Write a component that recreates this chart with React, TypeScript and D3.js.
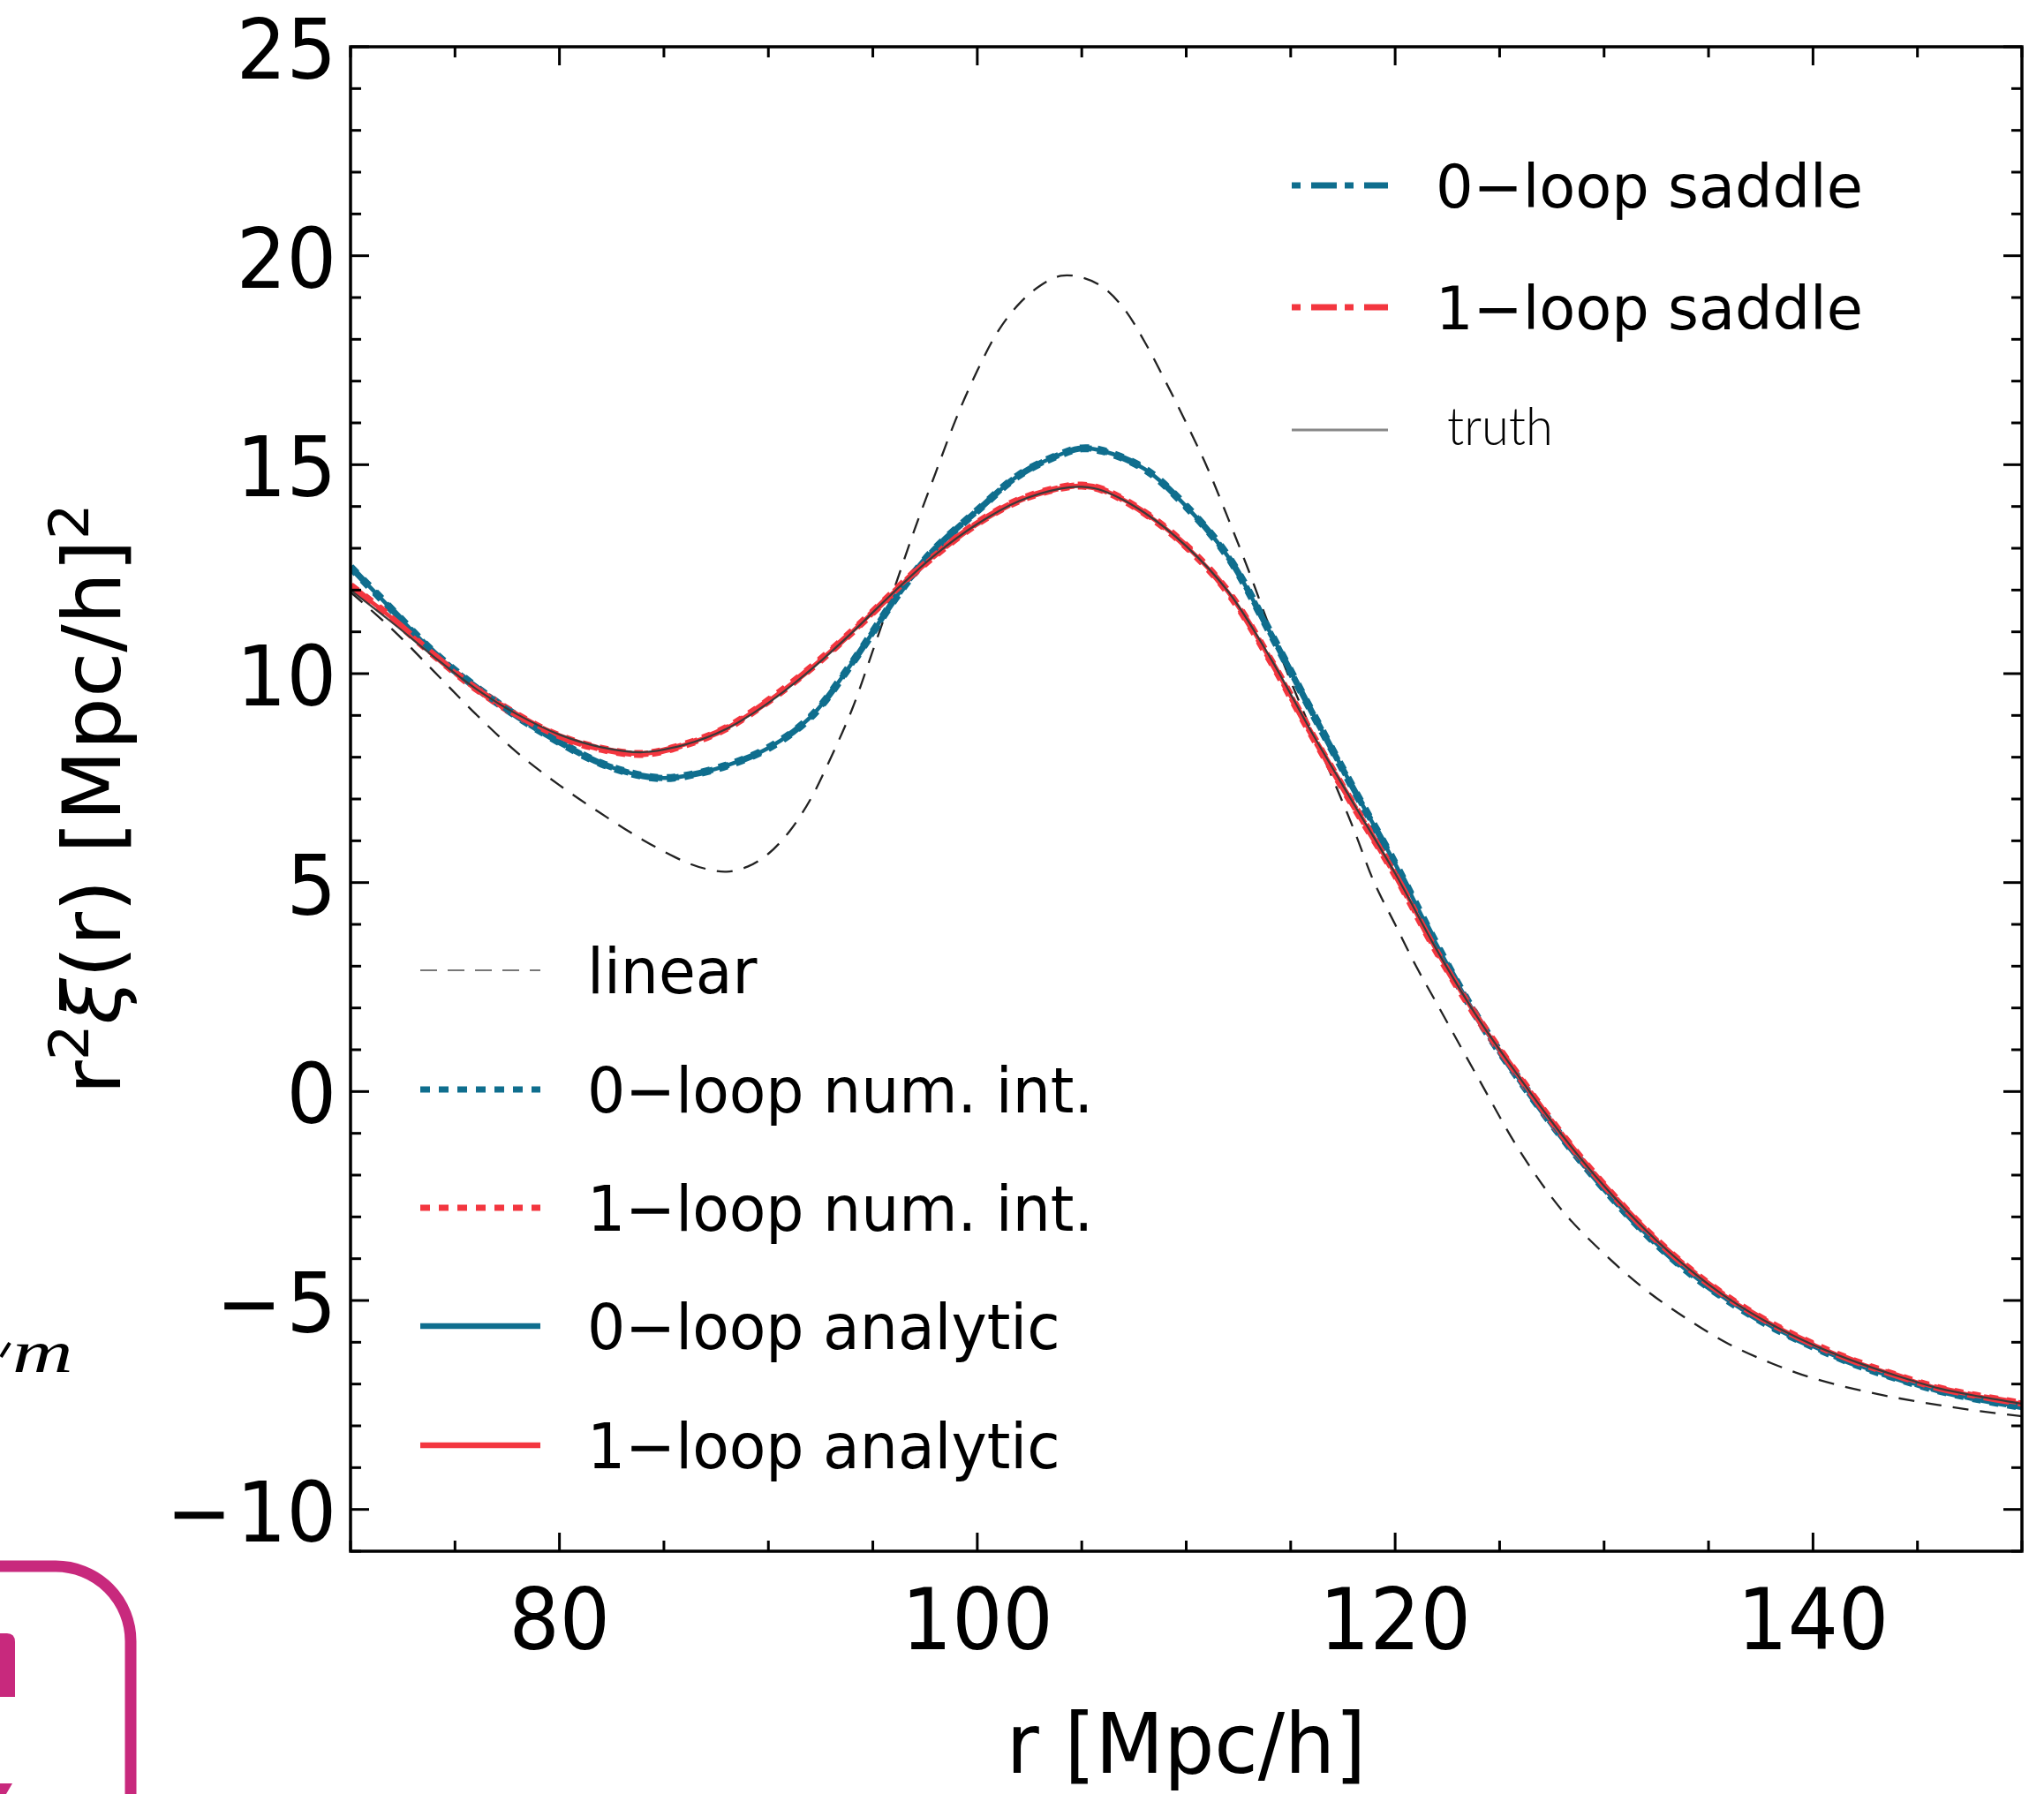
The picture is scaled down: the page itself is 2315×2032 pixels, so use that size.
import React from "react";
import * as d3 from "d3";

// ---------- data ----------
const zeroLoopR = [70, 72, 74, 76, 78, 80, 82, 84, 85, 86, 88, 90, 92, 94, 96, 97, 98, 100, 102, 104, 105, 106, 108, 110, 112, 114, 116, 118, 120, 122, 124, 126, 128, 130, 132, 134, 136, 138, 140, 142, 144, 146, 148, 150];
const zeroLoopXi = [12.55, 11.52, 10.5, 9.68, 8.97, 8.36, 7.85, 7.55, 7.5, 7.55, 7.8, 8.22, 8.95, 10.25, 11.75, 12.42, 13.0, 13.9, 14.75, 15.25, 15.39, 15.33, 14.9, 14.0, 12.8, 11.0, 9.1, 7.25, 5.45, 3.5, 1.72, 0.25, -1.1, -2.32, -3.4, -4.3, -5.02, -5.62, -6.1, -6.52, -6.86, -7.15, -7.37, -7.55];

const oneLoopR = [70, 72, 74, 76, 78, 80, 82, 84, 86, 88, 90, 92, 94, 96, 97, 98, 100, 102, 104, 105, 106, 108, 110, 112, 114, 116, 118, 120, 122, 124, 126, 128, 130, 132, 134, 136, 138, 140, 142, 144, 146, 148, 150];
const oneLoopXi = [12.1, 11.32, 10.45, 9.65, 9.0, 8.5, 8.2, 8.08, 8.3, 8.7, 9.35, 10.12, 11.0, 11.95, 12.42, 12.85, 13.6, 14.15, 14.45, 14.5, 14.4, 13.85, 13.05, 11.95, 10.35, 8.55, 6.85, 5.2, 3.35, 1.72, 0.3, -1.05, -2.25, -3.32, -4.22, -4.96, -5.56, -6.05, -6.46, -6.8, -7.1, -7.3, -7.47];

const truthR = [70, 72, 74, 76, 78, 80, 82, 84, 86, 88, 90, 92, 94, 96, 98, 100, 102, 104, 105, 106, 108, 110, 112, 114, 116, 118, 120, 122, 124, 126, 128, 130, 132, 134, 136, 138, 140, 142, 144, 146, 148, 150];
const truthXi = [12.0, 11.22, 10.4, 9.64, 9.02, 8.54, 8.24, 8.12, 8.3, 8.68, 9.3, 10.08, 10.98, 11.95, 12.85, 13.58, 14.13, 14.43, 14.47, 14.38, 13.85, 13.05, 11.97, 10.4, 8.6, 6.9, 5.22, 3.38, 1.73, 0.3, -1.05, -2.26, -3.32, -4.22, -4.97, -5.57, -6.06, -6.46, -6.8, -7.1, -7.3, -7.47];

const linearR = [70, 72, 74, 76, 78, 80, 82, 84, 86, 87, 88, 89, 90, 91, 92, 93, 94, 95, 96, 97, 98, 99, 100, 101, 102, 103, 104, 105, 106, 107, 108, 109, 110, 111, 112, 113, 114, 115, 116, 117, 118, 119, 120, 121, 122, 124, 126, 128, 130, 132, 134, 136, 138, 140, 142, 144, 146, 148, 150];
const linearXi = [11.95, 11.06, 10.05, 9.03, 8.1, 7.33, 6.65, 6.02, 5.5, 5.33, 5.26, 5.38, 5.69, 6.22, 6.98, 8.0, 9.14, 10.55, 12.0, 13.45, 14.8, 16.12, 17.25, 18.2, 18.85, 19.28, 19.52, 19.48, 19.25, 18.75, 17.95, 17.0, 16.0, 14.94, 13.72, 12.45, 11.1, 9.82, 8.64, 7.5, 6.3, 5.0, 4.0, 3.0, 2.1, 0.3, -1.45, -2.85, -3.88, -4.75, -5.45, -6.05, -6.5, -6.86, -7.12, -7.33, -7.5, -7.65, -7.77];

const xMajorTicks = [80, 100, 120, 140];
const yMajorTicks = [-10, -5, 0, 5, 10, 15, 20, 25];
const xDomain = [70, 150];
const yDomain = [-11, 25];

const legendTopLabels = ["0\u2212loop saddle", "1\u2212loop saddle", "truth"];
const legendBottomLabels = ["linear", "0\u2212loop num. int.", "1\u2212loop num. int.", "0\u2212loop analytic", "1\u2212loop analytic"];

const xLabel = "r\u00a0[Mpc/h]";

// ---------- styling ----------
const BLUE = "#0f6e8e";
const RED = "#f3363f";
const FONT = "DejaVu Sans, Verdana, sans-serif";

const W = 2315, H = 2032;
const L = 397, R = 2290, T = 53, B = 1757;

const x = d3.scaleLinear().domain(xDomain).range([L, R]);
const y = d3.scaleLinear().domain(yDomain).range([B, T]);

type Style = { color: string; width: number; dash?: string };
const STY: Record<string, Style> = {
  linear: { color: "#222", width: 2.3, dash: "18,13" },
  numInt0: { color: BLUE, width: 9, dash: "10,10" },
  numInt1: { color: RED, width: 9, dash: "10,10" },
  analytic0: { color: BLUE, width: 4.5 },
  analytic1: { color: RED, width: 4.5 },
  saddle0: { color: BLUE, width: 7, dash: "29,10,9,10" },
  saddle1: { color: RED, width: 7, dash: "29,10,9,10" },
  truth: { color: "#3a3a3a", width: 2.2 },
};

const series = [
  { key: "linear", r: linearR, v: linearXi },
  { key: "numInt0", r: zeroLoopR, v: zeroLoopXi },
  { key: "numInt1", r: oneLoopR, v: oneLoopXi },
  { key: "analytic0", r: zeroLoopR, v: zeroLoopXi },
  { key: "analytic1", r: oneLoopR, v: oneLoopXi },
  { key: "saddle0", r: zeroLoopR, v: zeroLoopXi },
  { key: "saddle1", r: oneLoopR, v: oneLoopXi },
  { key: "truth", r: truthR, v: truthXi },
];

const line = d3
  .line<[number, number]>()
  .x((d) => x(d[0]))
  .y((d) => y(d[1]))
  .curve(d3.curveCatmullRom.alpha(0.5));

function Txt(props: {
  x: number; y: number; size: number; s?: number; anchor?: string;
  children: React.ReactNode; family?: string; weight?: number; fill?: string; style?: string;
}) {
  const s = props.s ?? 1.07;
  return (
    <text
      transform={`translate(${props.x},${props.y}) scale(1,${s})`}
      fontSize={props.size}
      fontFamily={props.family ?? FONT}
      fontWeight={props.weight ?? 400}
      fontStyle={props.style ?? "normal"}
      textAnchor={props.anchor ?? "start"}
      fill={props.fill ?? "#000"}
    >
      {props.children}
    </text>
  );
}

function tickLabel(v: number) {
  if (v < 0) {
    return (
      <>
        <tspan>{"\u2212"}</tspan>
        <tspan dx={5}>{String(Math.abs(v))}</tspan>
      </>
    );
  }
  return String(v);
}

export default function App() {
  const xMinor = d3.range(xDomain[0], xDomain[1] + 0.001, 5).filter((v) => !xMajorTicks.includes(v));
  const yMinor = d3.range(yDomain[0], yDomain[1] + 0.001, 1).filter((v) => !yMajorTicks.includes(v));
  const MAJ = 21, MIN = 12, TW = 3;

  const topRows = [210, 348, 487];
  const topKeys = ["saddle0", "saddle1", "truth"];
  const botRows = [1099, 1234, 1368, 1502, 1637];
  const botKeys = ["linear", "numInt0", "numInt1", "analytic0", "analytic1"];

  const legendStyle = (k: string): Style => {
    if (k === "linear") return { color: "#777", width: 2.2, dash: "19,12" };
    if (k === "truth") return { color: "#888", width: 3 };
    if (k === "saddle0" || k === "saddle1") return { ...STY[k], dash: "10,12,29,9" };
    if (k === "numInt0" || k === "numInt1") return { ...STY[k], width: 7, dash: "11,10" };
    if (k === "analytic0" || k === "analytic1") return { ...STY[k], width: 6.5 };
    return STY[k];
  };

  return (
    <svg
      width={W}
      height={H}
      viewBox={`0 0 ${W} ${H}`}
      style={{ position: "absolute", left: 0, top: 0, background: "#fff" }}
    >
      <rect x={0} y={0} width={W} height={H} fill="#fff" />
      <defs>
        <clipPath id="plotclip">
          <rect x={L} y={T} width={R - L} height={B - T} />
        </clipPath>
      </defs>

      {/* curves */}
      <g clipPath="url(#plotclip)" fill="none">
        {series.map((s) => {
          const st = STY[s.key];
          const pts = s.r.map((r, i) => [r, s.v[i]] as [number, number]);
          return (
            <path
              key={s.key}
              d={line(pts) || ""}
              stroke={st.color}
              strokeWidth={st.width}
              strokeDasharray={st.dash}
              strokeLinejoin="round"
            />
          );
        })}
      </g>

      {/* ticks */}
      <g stroke="#000" strokeWidth={TW}>
        {xMajorTicks.map((v) => (
          <g key={"xM" + v}>
            <line x1={x(v)} x2={x(v)} y1={B} y2={B - MAJ} />
            <line x1={x(v)} x2={x(v)} y1={T} y2={T + MAJ} />
          </g>
        ))}
        {xMinor.map((v) => (
          <g key={"xm" + v}>
            <line x1={x(v)} x2={x(v)} y1={B} y2={B - MIN} />
            <line x1={x(v)} x2={x(v)} y1={T} y2={T + MIN} />
          </g>
        ))}
        {yMajorTicks.map((v) => (
          <g key={"yM" + v}>
            <line x1={L} x2={L + MAJ} y1={y(v)} y2={y(v)} />
            <line x1={R} x2={R - MAJ} y1={y(v)} y2={y(v)} />
          </g>
        ))}
        {yMinor.map((v) => (
          <g key={"ym" + v}>
            <line x1={L} x2={L + MIN} y1={y(v)} y2={y(v)} />
            <line x1={R} x2={R - MIN} y1={y(v)} y2={y(v)} />
          </g>
        ))}
      </g>

      {/* frame */}
      <rect x={L} y={T} width={R - L} height={B - T} fill="none" stroke="#000" strokeWidth={3.5} />

      {/* tick labels */}
      {xMajorTicks.map((v) => (
        <Txt key={"xl" + v} x={x(v)} y={1868} size={90} anchor="middle">
          {String(v)}
        </Txt>
      ))}
      {yMajorTicks.map((v) => (
        <Txt key={"yl" + v} x={381} y={y(v) + 36} size={89} s={1.06} anchor="end">
          {tickLabel(v)}
        </Txt>
      ))}

      {/* axis titles */}
      <Txt x={(L + R) / 2} y={2008} size={90} s={1.05} anchor="middle">
        {xLabel}
      </Txt>
      <text
        transform={`translate(136,${(T + B) / 2}) rotate(-90) scale(1.04,1)`}
        fontSize={90}
        fontFamily={FONT}
        textAnchor="middle"
      >
        <tspan>r</tspan>
        <tspan dy={-36} fontSize={62}>2</tspan>
        <tspan dy={36} fontStyle="italic">ξ</tspan>
        <tspan>(r) [Mpc/h]</tspan>
        <tspan dy={-36} fontSize={62}>2</tspan>
      </text>

      {/* top-right legend */}
      {topKeys.map((k, i) => {
        const st = legendStyle(k);
        return (
          <g key={"lt" + k}>
            <line
              x1={1463}
              x2={1572}
              y1={topRows[i]}
              y2={topRows[i]}
              stroke={st.color}
              strokeWidth={st.width}
              strokeDasharray={st.dash}
            />
            {k === "truth" ? (
              <Txt x={1639} y={topRows[i] + 17} size={56} s={1.05} family="Lato, 'Open Sans', sans-serif" weight={300}>
                {legendTopLabels[i]}
              </Txt>
            ) : (
              <Txt x={1626} y={topRows[i] + 25} size={67} s={1.02}>
                {legendTopLabels[i]}
              </Txt>
            )}
          </g>
        );
      })}

      {/* bottom-left legend */}
      {botKeys.map((k, i) => {
        const st = legendStyle(k);
        return (
          <g key={"lb" + k}>
            <line
              x1={476}
              x2={612}
              y1={botRows[i]}
              y2={botRows[i]}
              stroke={st.color}
              strokeWidth={st.width}
              strokeDasharray={st.dash}
            />
            <Txt x={665} y={botRows[i] + 26} size={68} s={1.05}>
              {legendBottomLabels[i]}
            </Txt>
          </g>
        );
      })}

      {/* cropped page fragments at left edge */}
      <path d="M 1 1537 L 11 1521" stroke="#000" strokeWidth={4} fill="none" />
      <text
        transform="translate(14,1554) scale(1,0.72)"
        fontSize={95}
        fontFamily="'Liberation Serif', 'DejaVu Serif', serif"
        fontStyle="italic"
      >
        m
      </text>
      <path
        d="M -20 1774 H 63 A 85 85 0 0 1 148 1859 V 2080"
        stroke="#c8297d"
        strokeWidth={13}
        fill="none"
      />
      <path d="M -10 1850 H 8 Q 17 1850 17 1860 V 1922 H -10 Z" fill="#c8297d" />
      <path d="M 0 2020 L 14 2020 L 7 2032 L 0 2032 Z" fill="#c8297d" />
    </svg>
  );
}
